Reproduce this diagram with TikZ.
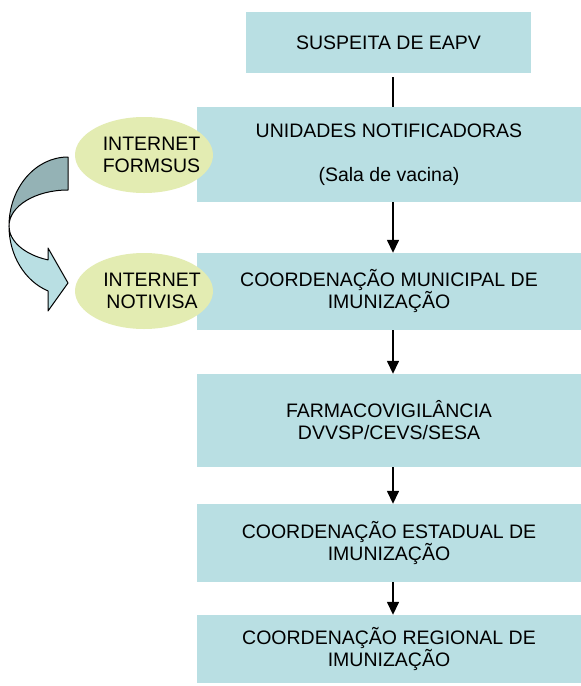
\documentclass[tikz,border=0pt]{standalone}
\usepackage{fontspec}
\setmainfont{Liberation Sans}
\usetikzlibrary{arrows.meta,shapes.geometric}
\definecolor{boxfill}{RGB}{185,223,227}
\definecolor{ovalfill}{RGB}{227,236,178}
\definecolor{arrowdark}{RGB}{148,178,181}
\tikzset{
  stepbox/.style={rectangle, fill=boxfill, draw=none, inner sep=0pt, align=center,
    font=\fontsize{19.5}{22}\selectfont, text=black},
  oval/.style={ellipse, fill=ovalfill, draw=none, inner sep=0pt},
  ovaltext/.style={align=center, inner sep=0pt, font=\fontsize{19.5}{22}\selectfont},
  flow/.style={line width=1.5pt, -{Triangle[length=13pt,width=12pt]}},
  bigarrow/.style={draw=black, line width=1pt, line join=round}
}
\begin{document}
\begin{tikzpicture}[x=1pt,y=-1pt]
\useasboundingbox (0,0) rectangle (581,686);
\fill[white] (0,0) rectangle (581,686);
% boxes
\node[stepbox, minimum width=285pt, minimum height=61pt] (b1) at (388.5,42.5) {SUSPEITA DE EAPV};
\node[stepbox, minimum width=384pt, minimum height=95pt] (b2) at (389,154.5) {UNIDADES NOTIFICADORAS\\[22pt](Sala de vacina)};
\node[stepbox, minimum width=384pt, minimum height=77pt] (b3) at (389,291.5) {COORDENAÇÃO MUNICIPAL DE\\IMUNIZAÇÃO};
\node[stepbox, minimum width=384pt, minimum height=93pt] (b4) at (389,420.5) {FARMACOVIGILÂNCIA\\DVVSP/CEVS/SESA};
\node[stepbox, minimum width=384pt, minimum height=78pt] (b5) at (389,543) {COORDENAÇÃO ESTADUAL DE\\IMUNIZAÇÃO};
\node[stepbox, minimum width=384pt, minimum height=68pt] (b6) at (389,649) {COORDENAÇÃO REGIONAL DE\\IMUNIZAÇÃO};
% connectors
\draw[line width=1.5pt, shorten <=4pt] ([xshift=4.5pt]b1.south) -- ([xshift=4pt]b2.north);
\draw[flow] ([xshift=4pt]b2.south) -- ([xshift=4pt]b3.north);
\draw[flow] ([xshift=4pt]b3.south) -- ([xshift=4pt]b4.north);
\draw[flow] ([xshift=4pt]b4.south) -- ([xshift=4pt]b5.north);
\draw[flow] ([xshift=4pt]b5.south) -- ([xshift=4pt]b6.north);
% ovals
\node[oval, minimum width=138pt, minimum height=76pt] (e1) at (144,155) {};
\node[ovaltext] (t1) at ([xshift=7.5pt]e1.center) {INTERNET\\FORMSUS};
\node[oval, minimum width=138pt, minimum height=76pt] (e2) at (144,291) {};
\node[ovaltext] (t2) at ([xshift=8pt]e2.center) {INTERNET\\NOTIVISA};
% curved arrow
\coordinate (ac) at (68,226);
\draw[bigarrow, fill=arrowdark] (68,157)
  arc[start angle=270, end angle=180, x radius=59, y radius=69]
  arc[start angle=180, end angle=270, x radius=59, y radius=36] -- cycle;
\draw[bigarrow, fill=boxfill] (9,226)
  arc[start angle=180, end angle=109.8, x radius=59, y radius=69]
  -- (48,311) -- (68,283) -- (48,248) -- (48,259.9)
  arc[start angle=109.8, end angle=180, x radius=59, y radius=36] -- cycle;
\end{tikzpicture}
\end{document}
